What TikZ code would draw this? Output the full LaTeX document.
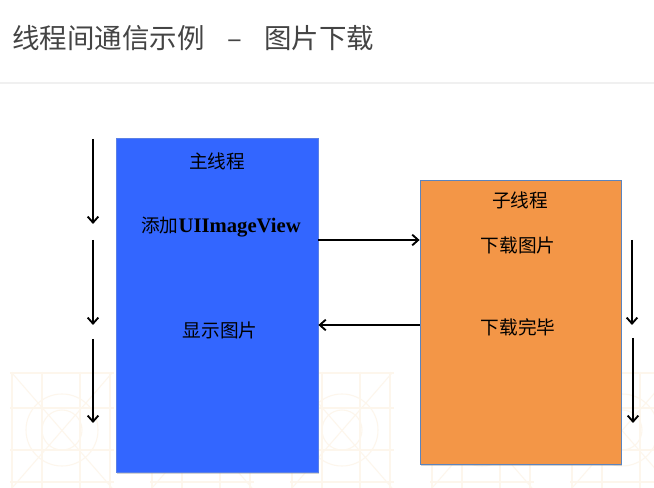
\documentclass[tikz,border=0pt]{standalone}
\usepackage{fontspec}
\setmainfont{Noto Sans CJK SC}
\newfontfamily\latserif{Liberation Serif}
\usetikzlibrary{arrows.meta,shadows}
\definecolor{mainblue}{HTML}{3366FF}
\definecolor{mainblueedge}{HTML}{5A80E6}
\definecolor{suborange}{HTML}{F39647}
\definecolor{suborangeedge}{HTML}{5B84BE}
\definecolor{titlegray}{HTML}{444444}
\definecolor{rulegray}{HTML}{F0F0F0}
\definecolor{watermark}{HTML}{FDF6EC}
\begin{document}
\begin{tikzpicture}[x=0.75pt,y=-0.75pt,
  threadbox/.style={rectangle, inner sep=0pt, line width=0.6pt,
    drop shadow={opacity=0.35, shadow xshift=1pt, shadow yshift=-1.2pt}},
  boxlabel/.style={font=\fontsize{14pt}{16pt}\selectfont, text=black, inner sep=0pt},
  flow/.style={-{Straight Barb[length=4.5pt,width=8pt]}, line width=1.4pt, black},
  wm/.style={draw=watermark, line width=0.8pt}
]
\useasboundingbox (0,0) rectangle (654,488);
\fill[white] (0,0) rectangle (654,488);

% faint background watermark tiles
\begin{scope}
\clip (0,368) rectangle (654,488);
\foreach \cx in {62,202,342,482,622} {
  \draw[wm] (\cx-50,372) -- (\cx-50,488) (\cx-20,372) -- (\cx-20,488)
            (\cx+18,372) -- (\cx+18,488) (\cx+48,372) -- (\cx+48,488);
  \draw[wm] (\cx-52,373) -- (\cx+52,373) (\cx-52,408) -- (\cx+52,408)
            (\cx-52,450) -- (\cx+52,450) (\cx-52,482) -- (\cx+52,482);
  \draw[wm] (\cx,430) circle[radius=36] (\cx,430) circle[radius=20];
  \draw[wm] (\cx-50,373) -- (\cx+50,488) (\cx+50,373) -- (\cx-50,488);
}
\end{scope}

% title
\node[anchor=west, inner sep=0pt, text=titlegray, font=\fontsize{20.6pt}{24pt}\selectfont]
  (title) at (12,38) {线程间通信示例\makebox[45pt]{–}图片下载};
\coordinate (ruleL) at (0,83);
\coordinate (ruleR) at (654,83);
\draw[rulegray, line width=0.8pt] (ruleL) -- (ruleR);

% boxes
\node[threadbox, fill=mainblue, draw=mainblueedge,
  minimum width=151.5pt, minimum height=250.5pt] (main) at (217,305) {};
\node[threadbox, fill=suborange, draw=suborangeedge,
  minimum width=150.75pt, minimum height=213pt] (sub) at (520.5,322) {};

% labels
\node[boxlabel] (mainT) at (217,161) {主线程};
\node[boxlabel] (addUI) at (221,227) {添加{\latserif\bfseries\fontsize{15.5pt}{16pt}\selectfont UIImageView}};
\node[boxlabel] (show) at (220,330) {显示图片};
\node[boxlabel] (subT) at (520,200) {子线程};
\node[boxlabel] (dl) at (518,245) {下载图片};
\node[boxlabel] (done) at (518,327) {下载完毕};

% horizontal connectors
\coordinate (yA) at (0,240);
\coordinate (yB) at (0,325);
\draw[flow] (main.east |- yA) -- (sub.west |- yA);
\draw[flow] (sub.west |- yB) -- (main.east |- yB);

% left timeline arrows
\coordinate (l1s) at (93,139);
\coordinate (l1e) at (93,224);
\coordinate (l2s) at (93,240);
\coordinate (l2e) at (93,325);
\coordinate (l3s) at (93,339);
\coordinate (l3e) at (93,423);
\draw[flow] (l1s) -- (l1e);
\draw[flow] (l2s) -- (l2e);
\draw[flow] (l3s) -- (l3e);

% right timeline arrows
\coordinate (r1s) at (632,240);
\coordinate (r1e) at (632,325);
\coordinate (r2s) at (633,338);
\coordinate (r2e) at (633,423);
\draw[flow] (r1s) -- (r1e);
\draw[flow] (r2s) -- (r2e);
\end{tikzpicture}
\end{document}
